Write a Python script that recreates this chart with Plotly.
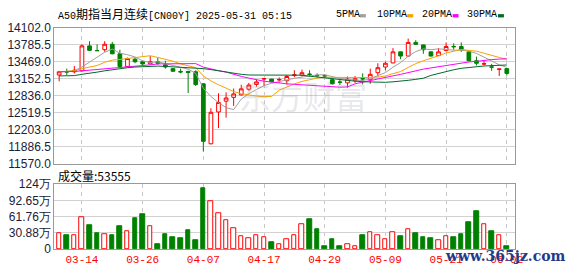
import plotly.graph_objects as go

# ---------------- data ----------------
tick_idx = [3, 11, 19, 27, 35, 43, 51, 59]
tick_labels = ["03-14", "03-26", "04-07", "04-17", "04-29", "05-09", "05-21", "06-02"]

opens = [13223, 13285, 13283, 13301, 13766, 13680, 13695, 13796, 13619, 13382,
         13518, 13471, 13430, 13471, 13412, 13342, 13290, 13290, 13283, 13059,
         11940, 12534, 12735, 12806, 12852, 12958, 13047, 13150, 13147, 13130,
         13117, 13215, 13218, 13240, 13215, 13210, 13135, 13092, 13076, 13117,
         13155, 13135, 13266, 13372, 13448, 13655, 13577, 13831, 13784, 13655,
         13584, 13678, 13756, 13754, 13655, 13489, 13428, 13374, 13330, 13342]
highs = [13301, 13342, 13390, 13796, 13854, 13796, 13854, 13842, 13695, 13549,
         13549, 13489, 13577, 13549, 13489, 13350, 13342, 13300, 13312, 13070,
         12604, 12882, 12900, 12970, 13041, 13076, 13135, 13160, 13150, 13177,
         13223, 13312, 13324, 13312, 13253, 13236, 13165, 13135, 13195, 13206,
         13253, 13342, 13442, 13471, 13725, 13660, 13902, 13872, 13790, 13660,
         13725, 13831, 13814, 13831, 13665, 13566, 13489, 13430, 13336, 13345]
lows = [13106, 13223, 13253, 13290, 13675, 13670, 13655, 13610, 13375, 13370,
        13442, 13412, 13425, 13412, 13342, 13283, 13253, 12887, 13018, 11798,
        11930, 12233, 12428, 12647, 12841, 12930, 13006, 13018, 13090, 13076,
        13047, 13183, 13195, 13195, 13183, 13165, 13047, 13036, 12988, 13076,
        13047, 13059, 13195, 13312, 13442, 13518, 13570, 13784, 13619, 13570,
        13577, 13665, 13695, 13655, 13480, 13400, 13400, 13301, 13206, 13213]
closes = [13283, 13280, 13312, 13766, 13683, 13677, 13796, 13619, 13382, 13531,
          13471, 13430, 13471, 13442, 13372, 13294, 13280, 13270, 13047, 11986,
          12528, 12711, 12794, 12870, 12965, 13036, 13094, 13155, 13094, 13140,
          13195, 13225, 13266, 13235, 13210, 13205, 13059, 13088, 13147, 13153,
          13150, 13236, 13359, 13442, 13655, 13577, 13831, 13796, 13695, 13577,
          13655, 13754, 13750, 13695, 13489, 13442, 13432, 13370, 13334, 13253]

# volume in 万 (10k lots)
volumes = [30.2, 25.9, 27.1, 61.4, 45.2, 30.7, 28.9, 25.9, 43.4, 33.7,
           59.6, 66.8, 43.4, 9.0, 28.9, 23.5, 20.4, 35.8, 16.3, 115.6,
           90.3, 68.1, 55.5, 39.2, 25.3, 21.1, 27.1, 23.5, 12.6, 9.0,
           19.3, 27.1, 46.4, 56.0, 37.9, 5.4, 18.1, 5.4, 9.0, 5.4,
           27.1, 32.0, 27.1, 19.6, 32.0, 25.3, 37.9, 30.7, 23.5, 19.9,
           17.5, 25.3, 21.7, 28.9, 50.6, 72.3, 47.0, 34.3, 27.1, 5.3555]

ma5 = [13285, 13290, 13301, 13372, 13465, 13544, 13647, 13708, 13631, 13601,
       13560, 13487, 13457, 13469, 13437, 13402, 13372, 13332, 13253, 12975,
       12822, 12708, 12613, 12578, 12774, 12875, 12952, 13024, 13069, 13104,
       13136, 13162, 13184, 13212, 13226, 13228, 13195, 13159, 13142, 13130,
       13119, 13155, 13209, 13268, 13368, 13454, 13573, 13660, 13711, 13695,
       13711, 13695, 13686, 13686, 13669, 13626, 13562, 13486, 13413, 13366]
ma10 = [13280, 13285, 13301, 13342, 13372, 13400, 13460, 13501, 13513, 13533,
        13552, 13567, 13583, 13550, 13519, 13481, 13429, 13394, 13361, 13206,
        13112, 13040, 12972, 12915, 12875, 12849, 12830, 12819, 12823, 12939,
        13005, 13057, 13104, 13141, 13165, 13182, 13178, 13172, 13177, 13178,
        13174, 13175, 13184, 13205, 13249, 13287, 13364, 13435, 13489, 13532,
        13582, 13634, 13673, 13699, 13682, 13668, 13629, 13586, 13550, 13517]
ma20 = [13283, 13283, 13289, 13301, 13312, 13330, 13342, 13354, 13359, 13372,
        13383, 13395, 13412, 13430, 13430, 13436, 13442, 13442, 13436, 13370,
        13332, 13304, 13278, 13233, 13197, 13165, 13130, 13107, 13092, 13073,
        13059, 13049, 13038, 13028, 13020, 13016, 13004, 12996, 13000, 13059,
        13090, 13116, 13144, 13173, 13207, 13235, 13271, 13304, 13333, 13355,
        13378, 13405, 13429, 13452, 13466, 13478, 13497, 13511, 13520, 13525]
ma30 = [13206, 13206, 13212, 13236, 13253, 13277, 13301, 13324, 13342, 13359,
        13372, 13377, 13389, 13389, 13383, 13377, 13372, 13365, 13359, 13342,
        13324, 13301, 13283, 13253, 13236, 13223, 13223, 13218, 13218, 13226,
        13223, 13221, 13220, 13202, 13186, 13170, 13146, 13128, 13120, 13108,
        13097, 13091, 13087, 13087, 13096, 13106, 13124, 13142, 13163, 13216,
        13254, 13289, 13321, 13348, 13366, 13379, 13391, 13398, 13406, 13410]

price_ticks = [11570.0, 11886.5, 12203.0, 12519.5, 12836.0, 13152.5, 13469.0, 13785.5, 14102.0]
vol_ticks = [0, 30.88, 61.76, 92.65, 123.52]
vol_tick_labels = ["0", "30.88万", "61.76万", "92.65万", "124万"]

title_text = "A50<span style='font-size:12px'>期指当月连续</span>[CN00Y] 2025-05-31 05:15"
vol_label = "成交量:53555"
ma_names = ["5PMA", "10PMA", "20PMA", "30PMA"]

# ---------------- styles ----------------
RED = "#ff0000"
GREEN = "#008000"
MA_COLORS = ["#a0a0a0", "#f5a300", "#ff00ff", "#006b2c"]
W, H = 578, 276

def px(x):
    return x / W

def py(y):
    return 1 - y / H

idx = list(range(len(closes)))

fig = go.Figure()

fig.add_trace(go.Candlestick(
    x=idx, open=opens, high=highs, low=lows, close=closes,
    increasing=dict(line=dict(color=RED, width=1), fillcolor="#ffffff"),
    decreasing=dict(line=dict(color=GREEN, width=1), fillcolor=GREEN),
    whiskerwidth=0, hoverinfo="skip", xaxis="x", yaxis="y",
))

for vals, col in zip([ma5, ma10, ma20, ma30], MA_COLORS):
    fig.add_trace(go.Scatter(x=idx, y=vals, mode="lines",
                             line=dict(color=col, width=1),
                             hoverinfo="skip", xaxis="x", yaxis="y"))

up = [c >= o for o, c in zip(opens, closes)]
fig.add_trace(go.Bar(
    x=idx, y=volumes, width=0.6,
    marker=dict(color=["#ffffff" if u else GREEN for u in up],
                line=dict(color=[RED if u else GREEN for u in up], width=1)),
    hoverinfo="skip", xaxis="x2", yaxis="y2",
))

xdom = [px(55), px(522)]
xr = [-0.65, 60.05]
axis_common = dict(showline=True, mirror=True, linecolor="#999999", linewidth=1,
                   zeroline=False, ticks="")
tickfont = dict(family="Liberation Sans, Arial, sans-serif", size=12, color="#1c2035")

fig.update_layout(
    width=W, height=H, margin=dict(l=0, r=0, t=0, b=0),
    paper_bgcolor="#ffffff", plot_bgcolor="#ffffff", showlegend=False,
    bargap=0,
    xaxis=dict(domain=xdom, range=xr, anchor="y", tickvals=tick_idx,
               showticklabels=False, showgrid=True, gridcolor="#c8c8c8",
               griddash="4px,4px", rangeslider=dict(visible=False), **axis_common),
    yaxis=dict(domain=[py(165), py(22)], range=[price_ticks[0], price_ticks[-1]],
               anchor="x", tickvals=price_ticks,
               ticktext=["%.1f" % v for v in price_ticks],
               showgrid=True, gridcolor="#d2d2d2", tickfont=tickfont, **axis_common),
    xaxis2=dict(domain=xdom, range=xr, anchor="y2", tickvals=tick_idx,
                ticktext=tick_labels, showgrid=True, gridcolor="#c8c8c8",
                griddash="4px,4px",
                tickfont=dict(family="Liberation Mono, monospace", size=11, color=RED),
                **axis_common),
    yaxis2=dict(domain=[py(255), py(186.7)], range=[vol_ticks[0], vol_ticks[-1]],
                anchor="x2", tickvals=vol_ticks, ticktext=vol_tick_labels,
                showgrid=True, gridcolor="#d2d2d2", tickfont=tickfont, **axis_common),
)

annotations = []
shapes = []
annotations.append(dict(text=title_text, x=px(57), y=py(8), xref="paper", yref="paper",
                        xanchor="left", yanchor="middle", showarrow=False,
                        font=dict(family="Liberation Mono, Noto Sans CJK SC", size=10, color="#000000")))
leg_x = [339, 380, 426, 472]
sq_x = [365, 413, 459, 505]
for name, col, lx, sx in zip(ma_names, MA_COLORS, leg_x, sq_x):
    annotations.append(dict(text=name, x=px(lx), y=py(8), xref="paper", yref="paper",
                            xanchor="left", yanchor="middle", showarrow=False,
                            font=dict(family="Liberation Mono, monospace", size=10, color="#000000")))
    shapes.append(dict(type="rect", xref="paper", yref="paper",
                       x0=px(sx), x1=px(sx + 6), y0=py(11), y1=py(7.5),
                       fillcolor=col, line=dict(width=0)))
annotations.append(dict(text=vol_label, x=px(57), y=py(177), xref="paper", yref="paper",
                        xanchor="left", yanchor="middle", showarrow=False,
                        font=dict(family="Noto Sans CJK SC", size=12, color="#000000")))
# watermarks
annotations.append(dict(text="东方财富", x=px(307), y=py(93), xref="paper", yref="paper",
                        xanchor="center", yanchor="middle", showarrow=False,
                        font=dict(family="Noto Sans CJK SC", size=32, color="rgba(150,150,165,0.22)")))
annotations.append(dict(text="<b>www.365jz.com</b>", x=px(513), y=py(262), xref="paper", yref="paper",
                        xanchor="center", yanchor="middle", showarrow=False,
                        font=dict(family="DejaVu Serif", size=14, color="#1f3c8c")))
fig.update_layout(annotations=annotations, shapes=shapes)

fig.write_html("out.html", config={"displayModeBar": False})
